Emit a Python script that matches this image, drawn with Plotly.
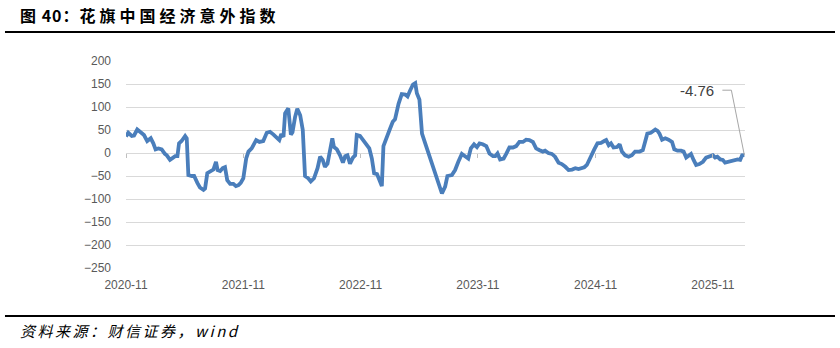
import pandas as pd
import plotly.graph_objects as go

# ---------------- data ----------------
start_date = "2020-11-01"
day_offsets = [
    0, 7, 18, 25, 35, 46, 56, 66, 77, 85, 92, 101, 111, 121, 127, 137, 145, 153, 160, 165,
    173, 184, 189, 194, 205, 212, 222, 230, 241, 246, 253, 264, 272, 280, 285, 293, 301, 308,
    315, 324, 334, 342, 350, 357, 365, 374, 381, 391, 405, 415, 427, 438, 448, 459, 469, 477,
    483, 490, 495, 505, 513, 518, 526, 533, 542, 550, 557, 567, 575, 585, 596, 604, 612, 619,
    627, 635, 642, 647, 656, 666, 675, 682, 689, 697, 706, 713, 718, 728, 739, 749, 757, 765,
    772, 781, 789, 796, 801, 809, 820, 830, 837, 848, 858, 869, 876, 884, 893, 900, 905, 913,
    921, 931, 941, 952, 962, 972, 983, 993, 1000, 1014, 1024, 1034, 1045, 1055, 1065, 1073,
    1083, 1092, 1100, 1110, 1121, 1131, 1142, 1149, 1156, 1164, 1175, 1183, 1193, 1204, 1214,
    1224, 1235, 1245, 1255, 1266, 1276, 1287, 1297, 1304, 1314, 1325, 1335, 1346, 1356, 1367,
    1377, 1388, 1398, 1408, 1419, 1426, 1434, 1445, 1457, 1467, 1478, 1488, 1494, 1502, 1509,
    1517, 1528, 1536, 1543, 1553, 1564, 1574, 1584, 1598, 1608, 1615, 1622, 1633, 1639, 1647,
    1654, 1660, 1668, 1678, 1688, 1699, 1706, 1716, 1727, 1735, 1743, 1750, 1758, 1766, 1774,
    1784, 1795, 1805, 1815, 1826, 1833, 1840, 1849, 1857, 1864, 1875, 1885, 1896, 1903, 1911,
    1917, 1924,
]
surprise_index = [
    36, 44, 37, 38, 51, 44, 39, 26, 32, 21, 8, 10, 8, -2, -5, -15, -12, -7, -7, 21,
    26, 37, 32, -48, -50, -50, -65, -75, -80, -77, -44, -39, -36, -19, -37, -39, -33, -31,
    -59, -67, -67, -72, -70, -65, -55, -12, 3, 10, 28, 24, 26, 44, 46, 40, 32, 28,
    41, 35, 86, 97, 40, 45, 78, 96, 82, 50, -50, -55, -62, -55, -33, -8, -15, -30,
    -23, 6, 32, 13, 8, -5, -21, -7, -5, -23, -10, -5, 39, 37, 26, 17, 10, -12,
    -44, -46, -59, -72, 15, 32, 50, 68, 73, 107, 128, 127, 123, 136, 149, 152, 130, 116,
    42, 21, -1, -26, -48, -66, -88, -73, -50, -48, -37, -19, -2, -7, -12, 10,
    19, 13, 21, 19, 15, -1, -7, -7, -1, -14, -12, -2, 12, 12, 15,
    24, 24, 29, 28, 24, 10, 6, 3, 5, 0, -2, -8, -21, -24, -30,
    -37, -36, -33, -35, -33, -31, -26, -8, 8, 21, 22, 26, 28, 17, 21,
    12, 13, 19, 3, -5, -8, -5, 3, 3, 6, 24, 42, 44, 48, 51,
    48, 42, 29, 32, 29, 24, 8, 5, 5, 3, -10, -5, -2, -15, -26,
    -24, -19, -10, -7, -5, -10, -8, -14, -15, -21, -19, -17, -17, -14, -15,
    -5, -4.76,
]
tick_dates = ["2020-11-01", "2021-11-01", "2022-11-01", "2023-11-01", "2024-11-01", "2025-11-01"]
tick_labels = ["2020-11", "2021-11", "2022-11", "2023-11", "2024-11", "2025-11"]
y_ticks = [200, 150, 100, 50, 0, -50, -100, -150, -200, -250]
title_prefix = "图 40："
title_name = "花旗中国经济意外指数"
source_text = "资料来源：财信证券，wind"
last_label = "-4.76"

dates = pd.Timestamp(start_date) + pd.to_timedelta(day_offsets, unit="D")

LINE_COLOR = "#4A7EBB"
GRID = "#D9D9D9"
TICK_FONT = dict(family="Liberation Sans, Arial, sans-serif", size=12, color="#595959")
CJK = "Noto Sans CJK SC, sans-serif"

fig = go.Figure()
fig.add_trace(go.Scatter(
    x=dates, y=surprise_index, mode="lines",
    line=dict(color=LINE_COLOR, width=3.8), hoverinfo="skip", showlegend=False,
))
# invisible copy that carries the zero-line tick axis
fig.add_trace(go.Scatter(
    x=dates, y=surprise_index, mode="lines", xaxis="x2",
    line=dict(color="rgba(0,0,0,0)", width=0), hoverinfo="skip", showlegend=False,
))

x_range = [dates[0], dates[-1] + pd.Timedelta(days=2)]

fig.update_layout(
    width=840, height=348,
    margin=dict(l=126, r=95, t=61, b=80),
    paper_bgcolor="white", plot_bgcolor="white",
    xaxis=dict(
        type="date", range=x_range, tickvals=tick_dates, ticktext=tick_labels,
        showgrid=False, zeroline=False, showline=False, ticks="",
        tickfont=TICK_FONT, ticklabelstandoff=8,
    ),
    xaxis2=dict(
        type="date", range=x_range, overlaying="x", anchor="free",
        position=250 / 450, tickvals=tick_dates, showticklabels=False,
        ticks="outside", ticklen=4, tickwidth=1, tickcolor="#BFBFBF",
        showgrid=False, zeroline=False, showline=False,
    ),
    yaxis=dict(
        range=[-250, 200], tickvals=y_ticks, showgrid=True, gridcolor=GRID,
        gridwidth=1, zeroline=False, showline=False, ticks="",
        tickfont=TICK_FONT, ticklabelstandoff=14,
    ),
)

# last value label with bent leader line
fig.add_annotation(
    x=dates[-1], y=surprise_index[-1], text=last_label, showarrow=False,
    xshift=-47, yshift=65, xanchor="center", yanchor="middle",
    font=dict(family="Liberation Sans, Arial, sans-serif", size=15, color="#404040"),
)
fig.add_shape(
    type="path", xref="x", yref="y", xsizemode="pixel", ysizemode="pixel",
    xanchor=dates[-1], yanchor=surprise_index[-1],
    path="M0,0 L-13,65 L-22,65", line=dict(color="#A6A6A6", width=1),
)

# title, rules, source
fig.add_annotation(
    xref="paper", yref="paper", x=-0.1745, y=1.222, xanchor="left", yanchor="middle",
    text=("<b><span style='letter-spacing:1px'>" + title_prefix + "</span>"
          "<span style='letter-spacing:4px'>" + title_name + "</span></b>"),
    showarrow=False, font=dict(family=CJK, size=16, color="black"),
)
fig.add_shape(type="line", xref="paper", yref="paper", x0=-0.1955, x1=1.1454,
              y0=1.140, y1=1.140, line=dict(color="black", width=2))
fig.add_shape(type="line", xref="paper", yref="paper", x0=-0.1955, x1=1.1454,
              y0=-0.2319, y1=-0.2319, line=dict(color="black", width=2))
fig.add_annotation(
    xref="paper", yref="paper", x=-0.1745, y=-0.3043, xanchor="left", yanchor="middle",
    text="<i><span style='letter-spacing:2.5px'>" + source_text + "</span></i>",
    showarrow=False, font=dict(family=CJK, size=15, color="black"),
)

fig.write_html("out.html")
